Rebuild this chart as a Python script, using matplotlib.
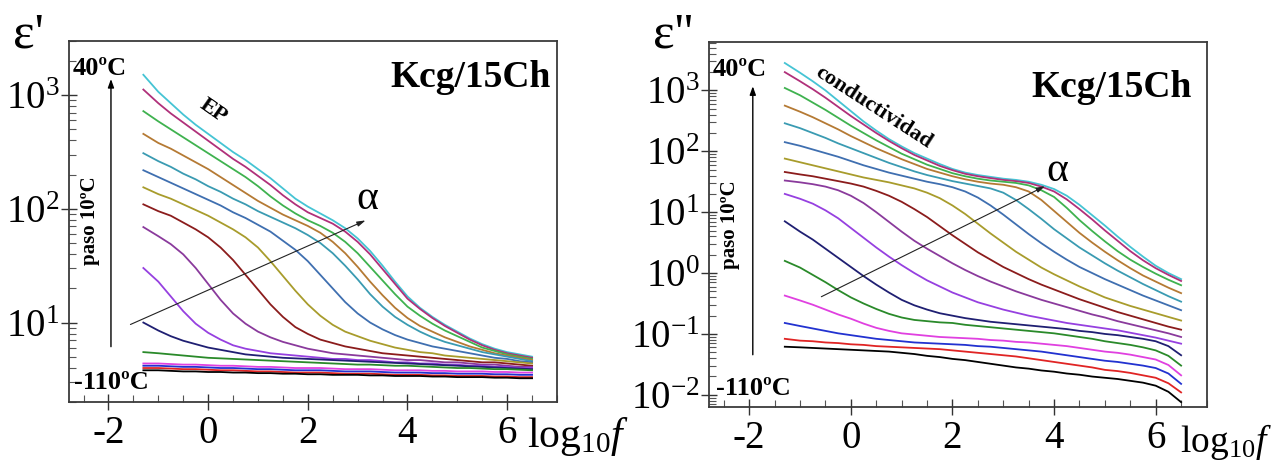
import numpy as np
import matplotlib
matplotlib.use("Agg")
import matplotlib.pyplot as plt
from matplotlib.ticker import LogLocator, NullFormatter, MultipleLocator, FixedLocator

plt.rcParams["font.family"] = ["Liberation Serif", "DejaVu Serif"]
plt.rcParams["mathtext.fontset"] = "custom"
plt.rcParams["mathtext.rm"] = "Liberation Serif"
plt.rcParams["mathtext.it"] = "Liberation Serif:italic"
plt.rcParams["axes.unicode_minus"] = False

# log10 of frequency (Hz)
log_f = [-1.3, -1.0, -0.75, -0.5, -0.25, 0.0, 0.25, 0.5, 0.75, 1.0, 1.25, 1.5, 1.75, 2.0, 2.25, 2.5,
         2.75, 3.0, 3.25, 3.5, 3.75, 4.0, 4.25, 4.5, 4.75, 5.0, 5.25, 5.5, 5.75, 6.0, 6.25, 6.5]
temps = [40, 30, 20, 10, 0, -10, -20, -30, -40, -50, -60, -70, -80, -90, -100, -110]
colors = ["#45c4d4", "#b0307a", "#3fb24f", "#b57a34", "#3a9bb2", "#3f6fb0", "#a89c2c", "#8b1c1c",
          "#8a3a9c", "#9640e0", "#1f1f72", "#2a8a2a", "#e040e0", "#2232d0", "#e02424", "#000000"]

# log10(eps'), one row per temperature (40 .. -110 C)
eps1_log = [
    [3.18, 3.03, 2.93, 2.83, 2.74, 2.66, 2.58, 2.50, 2.43, 2.35, 2.27, 2.18, 2.09, 2.02, 1.96, 1.90,
     1.83, 1.74, 1.63, 1.50, 1.36, 1.23, 1.13, 1.05, 0.98, 0.92, 0.86, 0.81, 0.77, 0.74, 0.72, 0.70],
    [3.05, 2.93, 2.84, 2.76, 2.68, 2.60, 2.52, 2.44, 2.37, 2.29, 2.21, 2.12, 2.04, 1.97, 1.92, 1.87,
     1.80, 1.71, 1.60, 1.47, 1.34, 1.21, 1.12, 1.04, 0.97, 0.91, 0.85, 0.80, 0.76, 0.73, 0.71, 0.69],
    [2.86, 2.77, 2.70, 2.63, 2.56, 2.49, 2.42, 2.35, 2.28, 2.20, 2.11, 2.03, 1.96, 1.90, 1.85, 1.79,
     1.71, 1.61, 1.49, 1.37, 1.25, 1.14, 1.06, 0.99, 0.93, 0.88, 0.83, 0.78, 0.75, 0.72, 0.70, 0.68],
    [2.66, 2.58, 2.53, 2.47, 2.41, 2.35, 2.28, 2.21, 2.14, 2.07, 2.01, 1.95, 1.90, 1.85, 1.79, 1.71,
     1.61, 1.49, 1.36, 1.24, 1.13, 1.04, 0.97, 0.92, 0.87, 0.83, 0.79, 0.76, 0.73, 0.71, 0.69, 0.67],
    [2.49, 2.42, 2.37, 2.31, 2.26, 2.20, 2.15, 2.09, 2.04, 1.98, 1.93, 1.88, 1.83, 1.77, 1.70, 1.61,
     1.50, 1.38, 1.25, 1.14, 1.05, 0.98, 0.92, 0.87, 0.83, 0.80, 0.77, 0.74, 0.72, 0.70, 0.68, 0.66],
    [2.34, 2.28, 2.23, 2.18, 2.13, 2.08, 2.03, 1.97, 1.92, 1.86, 1.80, 1.72, 1.64, 1.54, 1.42, 1.30,
     1.18, 1.08, 1.00, 0.94, 0.89, 0.85, 0.82, 0.79, 0.77, 0.75, 0.73, 0.71, 0.69, 0.68, 0.66, 0.65],
    [2.19, 2.13, 2.09, 2.04, 1.99, 1.94, 1.88, 1.82, 1.75, 1.66, 1.54, 1.41, 1.28, 1.16, 1.06, 0.98,
     0.92, 0.88, 0.84, 0.81, 0.78, 0.76, 0.74, 0.73, 0.71, 0.70, 0.69, 0.68, 0.67, 0.66, 0.65, 0.64],
    [2.04, 1.98, 1.94, 1.88, 1.82, 1.75, 1.66, 1.55, 1.42, 1.29, 1.16, 1.05, 0.96, 0.90, 0.85, 0.82,
     0.79, 0.77, 0.75, 0.73, 0.72, 0.71, 0.70, 0.69, 0.68, 0.67, 0.66, 0.65, 0.65, 0.64, 0.63, 0.62],
    [1.84, 1.76, 1.69, 1.60, 1.48, 1.34, 1.20, 1.08, 0.99, 0.92, 0.87, 0.83, 0.80, 0.77, 0.75, 0.73,
     0.72, 0.71, 0.70, 0.69, 0.68, 0.67, 0.67, 0.66, 0.65, 0.65, 0.64, 0.63, 0.63, 0.62, 0.61, 0.61],
    [1.48, 1.36, 1.23, 1.10, 0.99, 0.91, 0.85, 0.80, 0.77, 0.75, 0.73, 0.72, 0.71, 0.70, 0.69, 0.68,
     0.68, 0.67, 0.67, 0.66, 0.65, 0.65, 0.64, 0.64, 0.63, 0.63, 0.62, 0.62, 0.61, 0.61, 0.60, 0.60],
    [1.00, 0.93, 0.88, 0.84, 0.81, 0.78, 0.76, 0.74, 0.72, 0.71, 0.70, 0.69, 0.685, 0.68, 0.675, 0.67,
     0.665, 0.66, 0.655, 0.65, 0.645, 0.64, 0.635, 0.63, 0.625, 0.62, 0.615, 0.61, 0.605, 0.60, 0.595, 0.59],
    [0.74, 0.73, 0.72, 0.71, 0.70, 0.69, 0.685, 0.68, 0.675, 0.67, 0.665, 0.66, 0.655, 0.65, 0.645, 0.64,
     0.635, 0.63, 0.63, 0.625, 0.62, 0.62, 0.615, 0.61, 0.605, 0.60, 0.60, 0.595, 0.59, 0.59, 0.585, 0.58],
    [0.64, 0.64, 0.635, 0.63, 0.63, 0.625, 0.62, 0.62, 0.615, 0.61, 0.61, 0.605, 0.60, 0.60, 0.60, 0.595,
     0.59, 0.59, 0.59, 0.585, 0.58, 0.58, 0.58, 0.575, 0.575, 0.57, 0.57, 0.57, 0.565, 0.565, 0.56, 0.56],
    [0.62, 0.62, 0.615, 0.61, 0.61, 0.605, 0.60, 0.60, 0.595, 0.59, 0.59, 0.585, 0.58, 0.58, 0.58, 0.575,
     0.57, 0.57, 0.57, 0.565, 0.56, 0.56, 0.56, 0.555, 0.555, 0.55, 0.55, 0.55, 0.545, 0.545, 0.54, 0.54],
    [0.60, 0.60, 0.595, 0.59, 0.59, 0.585, 0.58, 0.58, 0.575, 0.57, 0.57, 0.565, 0.56, 0.56, 0.56, 0.555,
     0.55, 0.55, 0.55, 0.545, 0.54, 0.54, 0.54, 0.535, 0.535, 0.53, 0.53, 0.53, 0.525, 0.525, 0.52, 0.52],
    [0.58, 0.58, 0.575, 0.57, 0.57, 0.565, 0.565, 0.56, 0.56, 0.555, 0.555, 0.55, 0.55, 0.545, 0.545, 0.54,
     0.54, 0.54, 0.535, 0.535, 0.53, 0.53, 0.53, 0.525, 0.525, 0.52, 0.52, 0.52, 0.515, 0.515, 0.51, 0.51],
]

# log10(eps'')
eps2_log = [
    [3.45, 3.29, 3.15, 3.00, 2.83, 2.66, 2.49, 2.34, 2.20, 2.08, 1.97, 1.88, 1.79, 1.71, 1.65, 1.61,
     1.58, 1.55, 1.53, 1.50, 1.45, 1.38, 1.27, 1.12, 0.95, 0.78, 0.60, 0.43, 0.27, 0.12, 0.00, -0.10],
    [3.30, 3.15, 3.02, 2.88, 2.73, 2.58, 2.44, 2.30, 2.17, 2.05, 1.94, 1.85, 1.76, 1.69, 1.63, 1.59,
     1.56, 1.53, 1.51, 1.48, 1.42, 1.34, 1.21, 1.05, 0.88, 0.70, 0.53, 0.36, 0.21, 0.08, -0.03, -0.13],
    [3.04, 2.92, 2.80, 2.68, 2.55, 2.42, 2.30, 2.18, 2.07, 1.96, 1.87, 1.78, 1.71, 1.64, 1.59, 1.55,
     1.52, 1.50, 1.48, 1.44, 1.36, 1.25, 1.07, 0.87, 0.69, 0.52, 0.36, 0.22, 0.10, -0.01, -0.11, -0.20],
    [2.75, 2.65, 2.56, 2.46, 2.36, 2.25, 2.15, 2.05, 1.96, 1.87, 1.79, 1.71, 1.65, 1.59, 1.54, 1.50,
     1.47, 1.45, 1.41, 1.34, 1.20, 1.02, 0.84, 0.66, 0.50, 0.35, 0.21, 0.08, -0.04, -0.14, -0.24, -0.33],
    [2.46, 2.38, 2.30, 2.22, 2.13, 2.05, 1.97, 1.89, 1.81, 1.74, 1.67, 1.61, 1.56, 1.51, 1.47, 1.43,
     1.39, 1.32, 1.20, 1.05, 0.89, 0.72, 0.57, 0.42, 0.29, 0.16, 0.04, -0.07, -0.18, -0.28, -0.38, -0.47],
    [2.15, 2.09, 2.03, 1.97, 1.91, 1.84, 1.77, 1.71, 1.65, 1.60, 1.55, 1.50, 1.46, 1.41, 1.34, 1.24,
     1.11, 0.96, 0.80, 0.64, 0.49, 0.35, 0.22, 0.10, 0.00, -0.10, -0.19, -0.28, -0.37, -0.45, -0.53, -0.61],
    [1.88, 1.82, 1.77, 1.72, 1.67, 1.62, 1.57, 1.53, 1.49, 1.44, 1.39, 1.32, 1.23, 1.11, 0.97, 0.81,
     0.65, 0.50, 0.35, 0.22, 0.09, -0.02, -0.12, -0.22, -0.31, -0.40, -0.47, -0.54, -0.60, -0.66, -0.72, -0.78],
    [1.66, 1.62, 1.59, 1.55, 1.51, 1.47, 1.42, 1.35, 1.27, 1.17, 1.05, 0.92, 0.77, 0.62, 0.48, 0.34,
     0.22, 0.10, 0.00, -0.10, -0.19, -0.27, -0.35, -0.43, -0.50, -0.57, -0.64, -0.70, -0.76, -0.82, -0.88, -0.93],
    [1.52, 1.49, 1.46, 1.42, 1.36, 1.27, 1.15, 1.00, 0.84, 0.68, 0.53, 0.40, 0.28, 0.16, 0.05, -0.05,
     -0.14, -0.22, -0.30, -0.37, -0.44, -0.50, -0.56, -0.62, -0.68, -0.73, -0.79, -0.84, -0.89, -0.94, -0.99, -1.05],
    [1.30, 1.22, 1.14, 1.03, 0.90, 0.74, 0.58, 0.42, 0.27, 0.13, 0.00, -0.12, -0.22, -0.32, -0.40, -0.48,
     -0.54, -0.60, -0.65, -0.70, -0.74, -0.78, -0.82, -0.85, -0.88, -0.91, -0.94, -0.98, -1.02, -1.06, -1.11, -1.16],
    [0.85, 0.68, 0.55, 0.40, 0.25, 0.10, -0.05, -0.19, -0.32, -0.44, -0.53, -0.60, -0.66, -0.70, -0.74, -0.77,
     -0.80, -0.82, -0.84, -0.86, -0.88, -0.90, -0.92, -0.95, -0.97, -1.00, -1.02, -1.05, -1.08, -1.12, -1.20, -1.35],
    [0.20, 0.09, -0.03, -0.15, -0.28, -0.40, -0.50, -0.59, -0.67, -0.73, -0.77, -0.79, -0.81, -0.82, -0.85, -0.87,
     -0.89, -0.91, -0.93, -0.95, -0.97, -0.99, -1.02, -1.05, -1.08, -1.12, -1.15, -1.18, -1.22, -1.27, -1.36, -1.52],
    [-0.37, -0.45, -0.52, -0.60, -0.68, -0.75, -0.83, -0.90, -0.95, -0.99, -1.01, -1.03, -1.05, -1.06, -1.07, -1.08,
     -1.10, -1.11, -1.13, -1.14, -1.16, -1.18, -1.20, -1.23, -1.26, -1.29, -1.31, -1.34, -1.38, -1.42, -1.51, -1.68],
    [-0.82, -0.87, -0.91, -0.95, -0.99, -1.02, -1.05, -1.08, -1.10, -1.12, -1.14, -1.15, -1.16, -1.17, -1.18, -1.20,
     -1.21, -1.23, -1.25, -1.27, -1.29, -1.32, -1.35, -1.38, -1.41, -1.44, -1.46, -1.49, -1.52, -1.56, -1.65, -1.82],
    [-1.08, -1.11, -1.12, -1.14, -1.15, -1.17, -1.18, -1.20, -1.21, -1.22, -1.23, -1.24, -1.25, -1.27, -1.29, -1.31,
     -1.33, -1.35, -1.37, -1.40, -1.43, -1.46, -1.49, -1.52, -1.55, -1.59, -1.61, -1.64, -1.68, -1.72, -1.81, -1.96],
    [-1.21, -1.22, -1.23, -1.24, -1.25, -1.26, -1.27, -1.28, -1.29, -1.31, -1.33, -1.36, -1.38, -1.41, -1.43, -1.46,
     -1.49, -1.52, -1.55, -1.57, -1.60, -1.62, -1.65, -1.67, -1.70, -1.72, -1.74, -1.77, -1.80, -1.85, -1.95, -2.12],
]

W, H = 1277, 469
fig = plt.figure(figsize=(W / 100, H / 100), dpi=100)


def box(x0, y0, x1, y1):
    # pixel box (top-left origin) -> figure fraction rect
    return [x0 / W, 1 - y1 / H, (x1 - x0) / W, (y1 - y0) / H]


ax1 = fig.add_axes(box(68.6, 41, 557, 402))
ax2 = fig.add_axes(box(708.6, 41.7, 1206.5, 407))


def style(ax, ylim, yticks):
    ax.set_yscale("log")
    ax.set_xlim(-2.8, 7.0)
    ax.set_ylim(*ylim)
    ax.xaxis.set_major_locator(FixedLocator([-2, 0, 2, 4, 6]))
    ax.xaxis.set_minor_locator(MultipleLocator(0.5))
    ax.yaxis.set_major_locator(FixedLocator(yticks))
    ax.yaxis.set_minor_locator(LogLocator(base=10, subs=np.arange(2, 10), numticks=50))
    ax.yaxis.set_minor_formatter(NullFormatter())
    ax.tick_params(which="major", direction="inout", length=11, width=1.0,
                   colors="#333333", labelcolor="black", labelsize=28)
    ax.tick_params(which="minor", direction="in", length=5, width=0.8, colors="#555555")
    ax.tick_params(axis="x", which="major", pad=4)
    ax.tick_params(axis="y", which="major", pad=1)
    ax.tick_params(top=False, right=False, which="both")
    for sp in ax.spines.values():
        sp.set_color("#3a3a3a")
        sp.set_linewidth(1.3)


for ax, data in ((ax1, eps1_log), (ax2, eps2_log)):
    for row, c in zip(data, colors):
        ax.plot(log_f, 10.0 ** np.array(row), color=c, lw=1.3, solid_joinstyle="round")

style(ax1, (2.0, 3000), [10, 100, 1000])
style(ax2, (10 ** -2.2, 10 ** 3.8), [1e-2, 1e-1, 1, 10, 100, 1000])

bold = dict(fontweight="bold", color="black")

# left panel annotations
ax1.annotate("", xy=(-1.95, 1470), xytext=(-1.95, 5.8),
             arrowprops=dict(arrowstyle="-|>,head_length=0.5,head_width=0.18", color="black", lw=1.0))
ax1.text(-2.72, 1500, "40ºC", fontsize=19, ha="left", va="baseline", **bold)
ax1.text(-2.70, 2.62, "-110ºC", fontsize=19, ha="left", va="baseline", **bold)
ax1.text(-2.37, 78, "paso 10ºC", fontsize=15, rotation=90, ha="center", va="center", **bold)
ax1.text(0.10, 724, "EP", fontsize=16, rotation=-35, ha="center", va="center", **bold)
ax1.annotate("", xy=(3.21, 81), xytext=(-1.61, 9.4),
             arrowprops=dict(arrowstyle="-|>,head_length=0.5,head_width=0.15", color="#222222", lw=0.8))
ax1.text(3.19, 124, "α", fontsize=30, ha="center", va="center")
ax1.text(6.87, 1176, "Kcg/15Ch", fontsize=27, ha="right", va="baseline", **bold)

# right panel annotations
ax2.annotate("", xy=(-1.93, 1300), xytext=(-1.93, 0.041),
             arrowprops=dict(arrowstyle="-|>,head_length=0.5,head_width=0.18", color="black", lw=1.0))
ax2.text(-2.72, 1700, "40ºC", fontsize=19, ha="left", va="baseline", **bold)
ax2.text(-2.66, 0.0100, "-110ºC", fontsize=19, ha="left", va="baseline", **bold)
ax2.text(-2.37, 6.3, "paso 10ºC", fontsize=15, rotation=90, ha="center", va="center", **bold)
ax2.text(0.45, 525, "conductividad", fontsize=16, rotation=-33, ha="center", va="center", **bold)
ax2.annotate("", xy=(3.87, 28), xytext=(-0.63, 0.39),
             arrowprops=dict(arrowstyle="-|>,head_length=0.5,head_width=0.15", color="#222222", lw=0.8))
ax2.text(4.07, 48, "α", fontsize=30, ha="center", va="center")
ax2.text(6.71, 767, "Kcg/15Ch", fontsize=27, ha="right", va="baseline", **bold)

# axis titles in figure coordinates
fig.text(13 / W, 1 - 47 / H, "ε'", fontsize=37, ha="left", va="baseline")
fig.text(653 / W, 1 - 47 / H, "ε''", fontsize=37, ha="left", va="baseline")
fig.text(527 / W, 1 - 447 / H, r"$\mathrm{log}_{10}\mathit{f}$", fontsize=30, ha="left", va="baseline")
fig.text(1180 / W, 1 - 452 / H, r"$\mathrm{log}_{10}\mathit{f}$", fontsize=27, ha="left", va="baseline")

fig.savefig("out.png", dpi=100)
